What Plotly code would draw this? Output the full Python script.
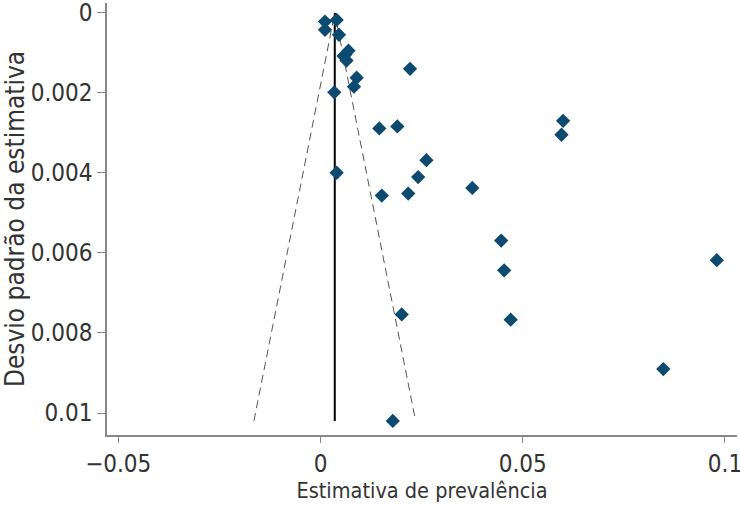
import plotly.graph_objects as go

# Study estimates (prevalence) and their standard errors
prevalence = [0.00111, 0.00400, 0.00111, 0.00457, 0.00692, 0.00618, 0.00569, 0.00643,
              0.02213, 0.00894, 0.00828, 0.00341, 0.01454, 0.01899, 0.05998, 0.05958,
              0.02618, 0.00400, 0.02414, 0.03753, 0.01516, 0.02169, 0.04467, 0.04541,
              0.09797, 0.02008, 0.04702, 0.08475, 0.01787]
std_error = [0.000216, 0.000174, 0.000422, 0.000546, 0.000943, 0.001042, 0.001079, 0.001191,
             0.001397, 0.001620, 0.001844, 0.001985, 0.002886, 0.002836, 0.002697, 0.003045,
             0.003680, 0.003995, 0.004102, 0.004375, 0.004566, 0.004516, 0.005690, 0.006434,
             0.006179, 0.007536, 0.007667, 0.008901, 0.010199]

pooled = 0.00353
se_max = max(std_error)
z = 1.96

x_ticks = [-0.05, 0, 0.05, 0.1]
x_tick_labels = ["\u22120.05", "0", "0.05", "0.1"]
y_ticks = [0, 0.002, 0.004, 0.006, 0.008, 0.01]
y_tick_labels = ["0", "0.002", "0.004", "0.006", "0.008", "0.01"]

FONT = "DejaVu Sans Condensed, Roboto, sans-serif"

fig = go.Figure()

# funnel (pseudo confidence limits)
fig.add_trace(go.Scatter(
    x=[pooled - z * se_max, pooled, pooled + z * se_max],
    y=[se_max, 0, se_max],
    mode="lines",
    line=dict(color="#555555", width=1, dash="8px,5px"),
    hoverinfo="skip", showlegend=False))

# pooled estimate line
fig.add_trace(go.Scatter(
    x=[pooled, pooled], y=[0, se_max],
    mode="lines", line=dict(color="black", width=2),
    hoverinfo="skip", showlegend=False))

# studies
fig.add_trace(go.Scatter(
    x=prevalence, y=std_error, mode="markers",
    marker=dict(symbol="diamond", size=11, color="#0d4a70"),
    showlegend=False))

fig.update_layout(
    width=740, height=507,
    margin=dict(l=107, r=3, t=3, b=72),
    paper_bgcolor="white", plot_bgcolor="white",
    font=dict(family=FONT, size=24, color="#333333"),
)
fig.update_xaxes(
    range=[-0.05278, 0.10297], automargin=False,
    tickvals=x_ticks, ticktext=x_tick_labels, ticklabeloverflow="allow",
    showgrid=False, zeroline=False,
    showline=True, linecolor="#888888", linewidth=1.5,
    ticks="outside", ticklen=6, tickcolor="#888888", tickwidth=1,
    tickfont=dict(family=FONT, size=24, color="#333333"),
    title=dict(text="Estimativa de prevalência", font=dict(family=FONT, size=21.5, color="#333333"), standoff=4),
)
fig.update_yaxes(
    range=[0.01055, -0.000248], automargin=False,
    tickvals=y_ticks, ticktext=y_tick_labels, ticklabeloverflow="allow",
    showgrid=False, zeroline=False,
    showline=True, linecolor="#888888", linewidth=1.5,
    ticks="outside", ticklen=8, tickcolor="#888888", tickwidth=1,
    tickfont=dict(family=FONT, size=24, color="#333333"),
    title=dict(text="Desvio padrão da estimativa", font=dict(family=FONT, size=26, color="#333333"), standoff=4),
)

fig.write_html("out.html", config={"displayModeBar": False},
               post_script="document.body.style.margin='0';document.body.style.overflow='hidden';")
